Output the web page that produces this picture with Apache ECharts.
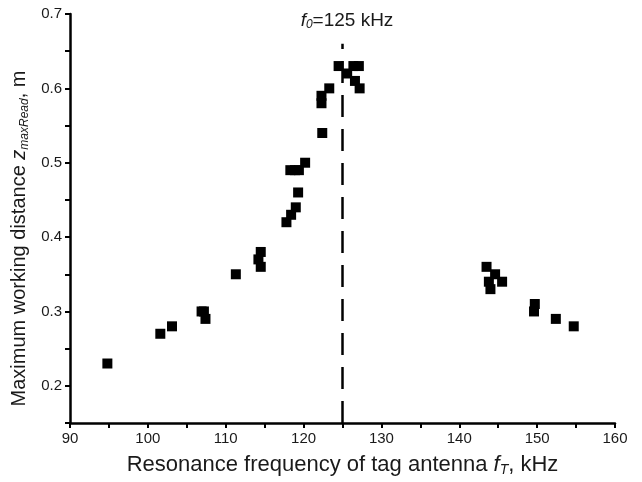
<!DOCTYPE html>
<html>
<head>
<meta charset="utf-8">
<title>zmaxRead vs fT</title>
<script src="https://cdn.jsdelivr.net/npm/echarts@6/dist/echarts.min.js"></script>
<style>
  html, body { margin: 0; padding: 0; background: #fff; }
  #chart { width: 642px; height: 482px; }
</style>
</head>
<body>
<div id="chart"></div>
<script>
// resonance frequency of tag antenna, kHz
var freq = [94.8, 101.6, 103.1, 106.9, 107.2, 107.4, 111.3, 114.5, 114.2, 114.5,
  117.8, 118.4, 119.0, 119.3, 118.3, 118.9, 119.4, 120.2, 122.4, 122.3, 122.3, 123.3,
  124.5, 125.6, 126.4, 127.1, 126.6, 127.2,
  143.5, 144.6, 143.8, 145.5, 144.0, 149.7, 149.6, 152.4, 154.7]
// max working distance, m
var dist = [0.23, 0.27, 0.28, 0.30, 0.30, 0.29, 0.35, 0.38, 0.37, 0.36,
  0.42, 0.43, 0.44, 0.46, 0.49, 0.49, 0.49, 0.50, 0.54, 0.58, 0.59, 0.60,
  0.63, 0.62, 0.63, 0.63, 0.61, 0.60,
  0.36, 0.35, 0.34, 0.34, 0.33, 0.31, 0.30, 0.29, 0.28]
var f0 = 125
var f0LineTop = 0.66

var chart = echarts.init(document.getElementById('chart'))
var points = freq.map(function(f, i) { return [f, dist[i]] })
var txt = '#1a1a1a'

// rich styles for italic symbol + subscript
function richText(size) {
  return {
    i: { fontSize: size, fontStyle: 'italic', color: txt },
    sub: { fontSize: Math.round(size * 0.62), fontStyle: 'italic', color: txt, verticalAlign: 'bottom', padding: [Math.round(size * 0.45), 0, 0, 0] },
    n: { fontSize: size, color: txt }
  }
}

var option = {
  animation: false,
  textStyle: { fontFamily: 'Liberation Sans, Arial, sans-serif' },
  title: {
    text: '{i|f}{sub|0}{n|=125 kHz}',
    left: 342,
    top: 5,
    textAlign: 'center',
    textStyle: { fontWeight: 'normal', rich: richText(19) }
  },
  grid: { left: 70, right: 27, top: 14, bottom: 58 },
  xAxis: {
    type: 'value',
    min: 90,
    max: 160,
    interval: 5,
    name: '{n|Resonance frequency of tag antenna }{i|f}{sub|T}{n|, kHz}',
    nameLocation: 'middle',
    nameGap: 30,
    nameTextStyle: { fontSize: 22, color: txt, rich: richText(22) },
    axisLine: { lineStyle: { color: '#000', width: 2.5 } },
    axisTick: { length: 5, lineStyle: { color: '#000', width: 2 } },
    axisLabel: {
      fontSize: 15,
      color: txt,
      margin: 8,
      formatter: function(v) { return v % 10 === 0 ? String(v) : '' }
    },
    splitLine: { show: false }
  },
  yAxis: {
    type: 'value',
    min: 0.15,
    max: 0.7,
    interval: 0.05,
    name: '{n|Maximum working distance }{i|z}{sub|maxRead}{n|, m}',
    nameLocation: 'middle',
    nameGap: 38,
    nameTextStyle: { fontSize: 20, color: txt, rich: richText(20), padding: [0, 40, 0, 0] },
    axisLine: { show: true, lineStyle: { color: '#000', width: 2.5 } },
    axisTick: { show: true, length: 5, lineStyle: { color: '#000', width: 2 } },
    axisLabel: {
      fontSize: 15,
      color: txt,
      margin: 8,
      formatter: function(v) {
        var h = Math.round(v * 100)
        return h % 10 === 0 ? (h / 100).toFixed(1) : ''
      }
    },
    splitLine: { show: false }
  },
  series: [
    {
      type: 'line',
      data: [[f0, 0.15], [f0, f0LineTop]],
      symbol: 'none',
      lineStyle: { color: '#000', width: 2.5, type: [22, 12] },
      z: 1
    },
    {
      type: 'scatter',
      data: points,
      symbol: 'rect',
      symbolSize: 10,
      itemStyle: { color: '#000', opacity: 1 },
      z: 2
    }
  ]
}
chart.setOption(option)
</script>
</body>
</html>
